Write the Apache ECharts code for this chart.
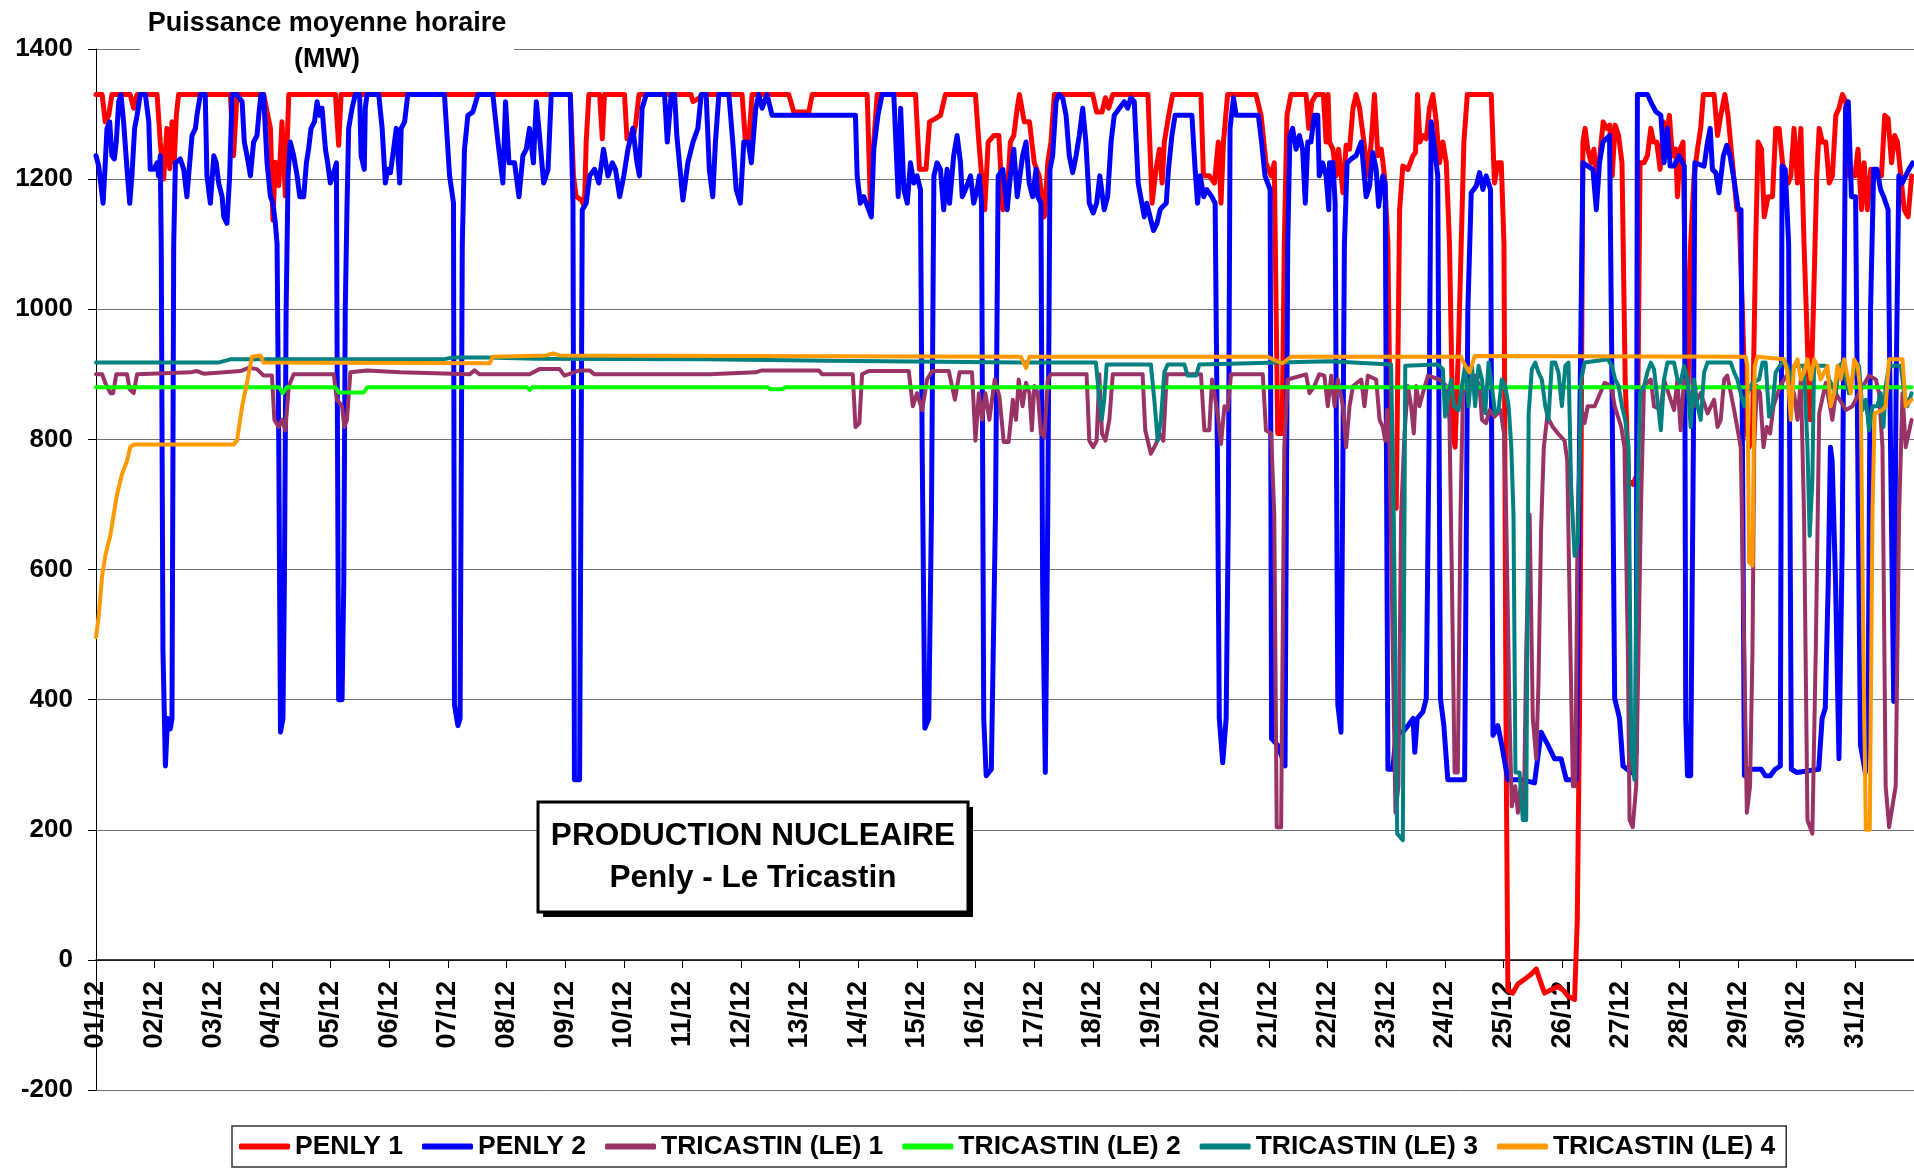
<!DOCTYPE html>
<html>
<head>
<meta charset="utf-8">
<title>Production nucleaire Penly - Le Tricastin</title>
<script src="https://cdn.jsdelivr.net/npm/echarts@6/dist/echarts.min.js"></script>
<style>
html, body { margin: 0; padding: 0; background: #fff; }
#chart { width: 1914px; height: 1171px; }
</style>
</head>
<body>
<div id="chart"></div>
<script>
// x = hours since 01/12 00:00, y = MW
var dayLabels = ['01/12','02/12','03/12','04/12','05/12','06/12','07/12','08/12','09/12','10/12',
  '11/12','12/12','13/12','14/12','15/12','16/12','17/12','18/12','19/12','20/12','21/12',
  '22/12','23/12','24/12','25/12','26/12','27/12','28/12','29/12','30/12','31/12'];
var seriesNames = ['PENLY 1', 'PENLY 2', 'TRICASTIN (LE) 1', 'TRICASTIN (LE) 2', 'TRICASTIN (LE) 3', 'TRICASTIN (LE) 4'];

var penly1 = [[0,1330],[2.5,1330],[3.8,1288],[5.2,1298],[6.5,1330],[14,1330],[15.4,1309],[16.8,1330],[25,1330],[26.3,1257],[27.7,1200],[29,1278],[30.2,1216],[31.1,1288],[32,1226],[32.9,1299],[33.8,1330],[55,1330],[56.3,1236],[57.7,1330],[68.6,1330],[71.4,1278],[72.4,1137],[73.4,1226],[74.8,1190],[76.1,1288],[77.5,1174],[78.9,1330],[98,1330],[99.3,1252],[100.3,1330],
  [194.1,1330],[195.4,1205],[196.5,1173],[198.6,1168],[199.9,1158],[200.6,1257],[201.7,1330],[206.1,1330],[207.2,1262],[208.1,1330],[216.3,1330],[217.3,1262],[219.7,1262],[220.8,1283],[222.2,1330],[243.5,1330],[244.3,1319],[247,1325],[248,1330],
  [264.4,1330],[265.8,1257],[267.1,1257],[268.5,1330],[283.5,1330],[285.6,1303],[291.7,1303],[293.1,1330],[315.6,1330],[316.9,1163],[318.3,1257],[319.7,1330],[335.4,1330],[337,1215],[339.7,1215],[341.1,1288],[343.5,1293],[345.6,1298],[347.6,1330],[359.9,1330],[361.3,1257],[362.9,1184],[363.7,1153],[365.1,1257],[367.4,1267],[369.5,1267],[371.1,1153],[372.9,1173],[374.2,1257],[375.6,1267],[377,1309],
  [377.9,1330],[379.9,1288],[382,1288],[384,1225],[386,1205],[388.1,1142],[389.5,1225],[390.8,1257],[392.2,1330],[407.9,1330],[409.5,1303],[411.7,1303],[413.1,1325],[414.4,1309],[416.1,1330],[430.5,1330],[432.2,1163],[433.8,1215],[435.2,1246],[436.3,1194],[437.2,1257],[439,1298],[440.6,1330],[452.2,1330],[453.2,1205],[455.6,1205],[457.7,1194],[459.3,1257],[460.4,1163],[461.4,1257],[463.1,1330],[474.7,1330],[476.8,1298],[478.8,1225],[480.9,1205],[482.2,1225],[483.6,809],[485.4,809],[486.3,1100],[487.4,1298],[489,1330],[495.2,1330],[496.3,1278],[497.6,1319],[499.3,1330],[502.3,1330],[503.4,1257],
  [504.2,1330],[504.8,1257],[506.2,1246],[507.5,1205],[508.5,1246],[510.3,1179],[511.6,1252],[513,1246],[514.4,1309],[515.7,1330],[517.1,1309],[518.9,1257],[520.5,1205],[521.9,1257],[523.2,1330],[524.6,1236],[526,1246],[527.3,1205],[528.7,1100],[530,705],[532.1,694],[533.5,1153],[534.8,1220],[536.9,1215],[539,1236],[540,1241],[540.8,1330],[541.8,1257],[543,1267],[544.4,1262],[545.7,1309],[547.1,1330],[548.5,1288],[549.8,1225],[551.2,1257],[552.6,1225],[553.9,1100],[555.3,809],[556.2,788],[557.6,944],[558.7,1100],[559.8,1257],[561.2,1330],[571,1330],[572.3,1194],[573.7,1225],[575.1,1225],[576.2,1100],[577.1,319],[577.8,-46],[579.8,-51],[581.9,-37],[584.6,-30],[587.3,-22],[589.4,-14],[590.8,-30],[592.8,-51],[595.5,-46],[598.3,-41],[600.3,-46],[602.4,-56],[605.1,-61],[606.2,62],[607.1,371],[607.8,788],[608.5,1257],[609.4,1278],[610.5,1246],[611.9,1225],[613,1246],[613.9,1205],[615.3,1231],[616.8,1288],[618.2,1278],[619.5,1283],[620.5,1205],[621.7,1283],[623.1,1267],[624.5,1225],[625.8,892],[627.2,736],[629,731],[630.7,746],
  [631.9,1225],[633.5,1225],[634.9,1236],[636.3,1278],[637.4,1257],[638.7,1257],[640.1,1215],[641.5,1288],[642.8,1267],[643.9,1298],[645.1,1236],[646.5,1246],[647.2,1173],[648.3,1246],[649.5,1257],[650.6,996],[651.5,871],[652.6,1100],[654,1205],[655.4,1246],[656.7,1278],[657.8,1330],[662.2,1330],[663.6,1267],[664.9,1298],[666.6,1330],[667.9,1298],[669.7,1225],[671.5,1153],[672.4,1153],[673.8,996],[675.1,830],[676.5,788],[677.9,809],[679.2,1100],[680.2,1257],[681.6,1246],[682.7,1142],[684.3,1173],[686.1,1173],[687.4,1278],[688.8,1278],[690.2,1225],[691.5,1205],[692.5,1194],[693.6,1205],[694.9,1278],[696.3,1194],[697.7,1278],[699,1100],[700.4,944],[701.5,830],[702.8,996],[704.2,1205],[705.2,1278],[706.5,1257],[707.9,1257],[709.3,1194],[710.6,1205],[712,1298],[713.3,1309],[714.7,1330],[716.1,1319],[717,1205],[719.8,1205],[721.1,1246],[722.5,1153],[723.6,1225],[724.9,1153],[726.3,1215],[727.9,1205],[730.7,1205],[732,1298],[733.4,1293],[734.8,1225],[736.1,1267],[737.2,1257],[738.6,1205],[740,1153],[741.6,1142],[743,1205]];

var penly2 = [[0,1236],[1.1,1220],[2.9,1163],[3.8,1225],[4.5,1278],[5.6,1288],[6.5,1236],[7.5,1231],[8.3,1257],[9.3,1319],[10.2,1330],[11.3,1288],[12.7,1215],[13.8,1163],[14.7,1205],[15.8,1278],[16.8,1298],[18.1,1330],[20.2,1330],[21.6,1288],[22.2,1215],[23.6,1215],[25,1225],[25.6,1205],[26.3,1236],[26.7,1100],[27.4,475],[28.4,298],[29.3,371],[30.4,355],[31.1,371],[31.8,1100],[32.5,1225],[34.5,1231],[35.9,1215],[37.2,1173],[37.9,1205],[39.3,1267],[40.7,1278],[41.3,1298],[42.7,1330],[44.7,1330],[45.4,1205],[46.8,1163],[48.2,1236],[49.2,1225],[50.2,1194],[51.6,1173],[52.3,1142],[53.6,1132],[54.7,1205],[55.7,1330],[57.7,1330],[59.8,1319],[60.7,1257],[61.8,1236],[63.2,1205],[64.5,1257],[65.9,1267],[66.6,1298],[67.5,1330],[68.6,1330],[70,1225],[71.4,1173],[72.4,1163],[73.4,1132],[74.1,1100],[74.8,788],[75.5,350],[76.5,371],[77.1,580],[77.8,996],[78.6,1205],[79.5,1257],[80.9,1236],[82.3,1205],[83.4,1173],[85,1173],[86.1,1225],[87,1246],[88,1278],[89.4,1288],[90.5,1319],[91.5,1298],[92.5,1309],[93.9,1246],[94.8,1225],[95.9,1194],[96.9,1205],[98.4,1225],[98.6,996],[99.3,400],[100.7,400],[101.4,580],[102,996],[102.7,1153],[103.4,1278],[104.8,1309],[106.1,1330],[107.9,1330],[108.5,1236],[109.8,1215],[110.2,1309],[110.9,1330],[115.7,1330],[117.1,1278],[118.4,1194],[119.4,1215],[120.5,1210],[121.8,1246],[122.9,1278],[124.3,1194],
  [124.9,1278],[126.3,1288],[127.6,1330],[142.6,1330],[144.7,1205],[146.3,1163],[146.7,392],[148.1,360],[149,371],[149.9,1100],[150.8,1246],[152.2,1298],[154.2,1303],[156.3,1330],[162.4,1330],[164.5,1257],[166.5,1194],[167.6,1319],[169,1225],[171.3,1225],[173.1,1173],[174.7,1236],[176.1,1246],[177.4,1278],[179,1225],[180.2,1319],[181.5,1267],[183.2,1194],[185,1215],[186.3,1330],[194.1,1330],[195.2,1163],[195.8,277],[197.9,277],[199,1153],[200.6,1163],[202,1205],[204,1215],[205.8,1194],[207.7,1246],[209.5,1205],[211.3,1225],[212.6,1215],[214.3,1173],[216,1205],[217.7,1246],[219.7,1278],[221.4,1225],[222.4,1205],[223.5,1309],[225.2,1330],[232.7,1330],[233.8,1257],[235.4,1330],[236.8,1330],[237.7,1267],[240.2,1168],[242.2,1225],[244.3,1257],[246.3,1278],[247.7,1330],[249.7,1330],[251,1215],
  [252.4,1173],[253.5,1257],[254.9,1330],[259,1330],[260.6,1257],[262,1184],[263.7,1163],[265.1,1257],[266.9,1257],[268.2,1225],[270,1309],[271.2,1330],[272.6,1309],[274.6,1330],[276.7,1298],[310.8,1298],[311.5,1205],[312.8,1163],[314.2,1173],[316.2,1153],[317.3,1142],[318.3,1246],[320,1298],[321.7,1330],[326.5,1330],[328.3,1173],[329.3,1309],[330.6,1184],[332,1163],[333.3,1225],[334.7,1194],[336,1205],[337.4,1184],[338.1,788],[339.2,356],[340.8,371],[341.9,684],[342.9,1205],[344.2,1225],[345.6,1215],[346.9,1153],[348.3,1215],[349.3,1163],[351,1236],[352.4,1267],[353.8,1225],[354.5,1173],[355.8,1184],[357.9,1205],[359.2,1163],[360.6,1184],[361.5,1205],[362.4,1163],[363.3,371],[364.3,283],[366.4,293],[368.1,684],[369.2,1205],[371.1,1215],[372.9,1153],[374.2,1205],[375.6,1246],[377,1173],
  [379.2,1236],[380.6,1257],[381.9,1194],[383.3,1173],[384.7,1215],[385.4,1173],[386.7,1163],[387.4,580],[388.5,288],[389.5,684],[390.4,1215],[391.5,1236],[392.9,1319],[394,1330],[395.6,1325],[397,1298],[398.3,1236],[399.7,1210],[401.1,1236],[402.4,1267],[403.8,1309],[405.1,1257],[406.5,1163],[408.1,1148],[409.5,1163],[410.8,1205],[412.6,1153],[414,1173],[415.4,1257],[416.7,1298],[418.8,1309],[420.8,1319],[422.2,1309],[423.5,1325],[424.9,1319],[426.5,1194],[428,1163],[429,1142],[430,1163],[431.7,1137],[432.8,1121],[434.2,1132],[435.5,1153],[436.6,1158],[438,1163],[438.9,1215],[440.3,1267],[441.6,1298],[448.5,1298],[449.8,1215],[450.8,1163],[451.9,1205],[453.3,1173],[454.6,1184],[456.6,1173],[458,1163],[458.9,788],[459.7,371],[461.1,303],[462.5,371],[463.4,684],[464.1,1278],[465.5,1325],[466.6,1298],[475.7,1298],[477,1257],[478.4,1205],[480.5,1184],[481.1,340],[483.6,330],[486.6,298],[487.7,1100],[488.6,1267],[489.7,1278],[491.1,1246],[492.5,1267],[493.8,1246],[494.9,1163],[495.9,1257],[497.2,1257],[498.6,1298],[500,1298],[500.6,1205],[502,1225],[503.4,1205],[504.5,1153],
  [504.8,1225],[506.2,1225],[507.1,1163],[508.2,392],[509.5,350],[510.9,1100],[512,1225],[513.7,1231],[515.7,1236],[517.8,1257],[519.8,1173],[521.2,1189],[522.5,1241],[523.9,1215],[524.9,1158],[526.6,1205],[527.6,1194],[528.7,293],[530.7,293],[532.1,350],[534.8,350],[536.9,360],[539,371],[539.7,319],[540.7,371],[543,381],[544.4,402],[545.5,788],[546.4,1288],[547.8,1246],[549.1,1205],[550.2,402],[551.6,360],[553.2,277],[560.1,277],[561.4,996],[562.8,1179],[564.8,1189],[566.2,1210],[567.6,1184],[568.9,1205],[570.7,1184],[571.7,345],[573.7,360],[575.3,330],[577.8,277],[583.3,277],[588.7,272],[591.4,350],[594.2,330],[596.9,309],[599.6,309],[601.7,277],[605.8,277],[607.1,788],[608.5,1225],[610.5,1220],[612.6,1215],[614,1153],[615.3,1225],[616.7,1257],[619.4,1267],[620.4,892],[621.5,402],[623.5,371],[624.9,298],[628.3,288],[630.3,319],
  [630.8,1330],[634.9,1330],[636.9,1314],[638.3,1304],[640.4,1298],[641.7,1225],[643.1,1278],[644.2,1220],[645.8,1220],[647.9,1236],[650,1220],[650.6,371],[651.3,283],[652.6,283],[653.7,788],[654.3,1225],[658.1,1220],[659.5,1257],[660.6,1278],[661.5,1215],[662.9,1210],[664.2,1179],[666,1236],[667.4,1252],[668.7,1236],[670.1,1205],[672.1,1153],[673.2,1153],[673.8,788],[674.6,283],[676.2,293],[681.5,293],[683.1,283],[685.2,283],[687.2,293],[689.3,298],[690,1220],[691.3,1215],[692.7,1100],[693.8,293],[696.1,288],[705,293],[706.4,371],[707.7,387],[708.9,580],[709.8,788],[710.5,767],[711.9,580],[713.3,309],[714.6,632],[716,1309],[717.1,1319],[718.4,1173],[720.1,1173],[721.2,684],[722.1,330],[724.1,288],[725.2,371],[726.2,996],[727.5,1215],[728.9,1215],[730.3,1184],[731.6,1173],[733.4,1153],[734.4,788],[735.7,397],[736.7,892],[737.8,1205],[739.2,1194],[740.6,1205],[741.9,1215],[743.5,1225]];

var tricastin1 = [[0,900],[2.5,900],[3.8,887],[5.9,871],[7,871],[8.3,900],[12.7,900],[13.8,877],[15.4,871],[16.8,900],[38.6,903],[41.3,905],[44.1,901],[52.3,903],[59.1,905],[62.5,910],[65.9,908],[68.6,898],[72,898],[73,830],[74.8,819],[76.1,830],[77.5,814],[78.9,882],[80.9,900],[97.3,900],[98.6,861],[100.7,851],[101.6,819],[102.7,830],[104.1,903],[110.9,906],[124.6,903],[152.9,900],[154.9,906],[157,900],[177.4,900],[181.5,908],[189.7,908],[191.7,898],[197.9,906],[202,906],[204,900],[251,900],[269.9,903],[272.6,906],[295.8,906],[297.2,900],[309.7,900],[310.8,819],[312.4,825],[313.5,900],[316.2,905],[332.6,905],[334.3,851],[336,871],[338.1,845],[340.1,892],[342.2,905],[349,905],[351.5,861],[353.4,903],[358.5,903],[359.9,798],[361.3,871],[362.6,830],[364,871],[365.6,830],[367.8,892],[369.7,866],[371.5,796],[373.5,796],[375.2,861],[376.5,830],[377.6,892],[379.2,851],[380.6,887],[382,871],[383,814],[384,882],[385.4,871],[386.7,809],[388.1,804],[389.5,892],[390.8,900],[405.4,900],[406.5,798],[408.1,788],[409.5,798],[410.6,900],[411.7,809],[413.1,798],[414.7,830],[416.1,900],[428.3,900],[429.4,814],[431.7,778],[433.8,793],[435.2,809],[436.8,798],[438.2,900],[452.2,900],[453.6,814],[455.6,814],[456.7,892],[459,840],[460.4,793],[461.8,851],[463.1,845],[464.5,900],[477.5,900],[478.8,814],[480.9,809],[482.2,684],[483.2,204],[485,204],[486.3,788],[487.7,892],[495.2,900],[496.6,871],[498.6,882],[500.6,900],[502.7,898],[504.1,851],[505.5,898],[506.9,851],[508.2,892],[510.3,851],[511.6,788],[513,851],[514.4,882],[517.8,892],[519.1,851],[520.5,898],[523.9,892],[525.3,830],[526.6,819],[527.6,798],[528.4,845],[529.4,788],[530.7,476],[531.8,226],[533,267],[534.1,684],[535.5,809],[536.9,882],[538.2,851],[539.3,809],[540.3,882],[541.6,851],[543,871],[545.1,898],[549.8,892],[552.6,882],[553.9,830],[554.9,580],[556,288],[557.3,288],[558.4,684],[559.4,871],[562.1,892],[564.2,898],[566.2,882],[567.2,830],[568.9,825],[570.3,845],[572.3,835],[574.8,845],[576.2,809],[577.1,684],[578.5,371],[579.4,236],[580.8,267],[581.9,226],[583,267],[584.3,215],[585.3,476],[586.7,684],[588,371],[589.4,309],[590.3,423],[591.4,663],[592.5,788],[593.9,835],[596.2,819],[598.3,809],[601,798],[602.1,767],[603.4,476],[604.4,267],[605.4,267],[606.4,684],[607.8,851],[609.2,825],[610.5,851],[613.3,851],[617.4,887],[620.1,882],[621.5,851],[624.2,819],[625.5,788],[626.9,476],[627.6,215],[628.9,204],[630.3,267],[632.2,684],[633.5,882],[636.3,892],[637.6,851],[640.4,845],[641.7,892],[645.8,845],[647.2,892],[648.5,814],[649.9,892],[654,851],[656.7,871],[659.5,840],[662.2,861],[663.6,819],[664.9,830],[666.3,892],[667.6,898],[670.4,845],[673.1,788],[674.5,476],[675.6,226],[676.9,267],[677.9,476],[678.6,788],[679.7,882],[681,871],[682.4,788],[683.7,819],[685.1,809],[686.5,851],[689.2,882],[691.9,898],[694.9,871],[696.3,830],[697.7,892],[699,684],[700.4,215],[702.4,194],[703.8,476],[705.2,840],[707.9,887],[710.6,830],[712,871],[716.1,845],[718.8,851],[721.5,871],[725.6,898],[728.4,892],[729.7,871],[731.1,788],[732.4,267],[733.8,204],[736.5,267],[737.9,684],[739.3,871],[740.6,788],[743,830]];

var tricastin2 = [[0,880],[75,880],[76.5,871],[78,880],[98,880],[99.5,872],[109.5,872],[111,880],[176.5,880],[177.5,876],[178.5,880],[275,880],[276,877],[281,877],[282,880],[743,880]];

var tricastin3 = [[0,918],[50,918],[55,923],[142,923],[146,926],[160,926],[180,924],[250,923],[300,921],[377.9,918],[409.2,918],[410.6,861],[411.6,830],[412.6,861],[413.6,915],[431.7,915],[433.1,861],[434.5,798],[435.8,830],[437.2,903],[438.6,915],[445.4,915],[446.8,898],[450.2,898],[451.5,915],[504.7,920],[530,915],[531.1,684],[532.5,194],[534.8,184],[535.8,913],[549.1,915],[551.2,908],[552.1,835],[553.5,871],[554.6,892],[555.7,851],[557.6,845],[559,882],[560.3,913],[561.7,851],[563.1,913],[564.4,851],[565.8,913],[567.2,892],[568.5,840],[569.9,918],[571.2,882],[572.6,840],[574,845],[575.3,892],[576.7,882],[578.1,851],[579.2,788],[580.1,684],[580.9,288],[582.6,288],[583.9,215],[585.3,215],[586.3,840],[587.6,908],[589,918],[590.3,903],[591.7,892],[593.1,851],[594.4,830],[595.8,918],[597.2,918],[598.5,903],[599.9,851],[601.3,913],[602.6,918],[603.7,726],[605.1,621],[606.4,642],[607.8,892],[609.2,918],[618.7,923],[620.4,913],[621.7,892],[623.1,882],[624.5,851],[625.8,830],[627.2,788],[628.3,319],[629.6,277],[630.7,684],[631.9,871],[633.5,882],[634.9,903],[636.3,918],[637.6,908],[639,861],[640.4,814],[641.7,892],[643.1,918],[645.8,918],[647.2,892],[648.5,887],[649.9,913],[651.3,892],[652.6,819],[654,892],[655.4,851],[656.7,830],[658.1,903],[659.5,918],[669,918],[670.4,903],[671.7,892],[673.1,871],[674.5,851],[675.8,871],[677.9,887],[680.6,892],[682,918],[683.3,918],[684.7,835],[686.1,851],[687.4,903],[690.8,923],[692.2,913],[693.6,892],[694.9,913],[699,913],[700.4,788],[701.3,652],[702.4,736],[703.1,913],[707.9,913],[709.3,892],[712,871],[713.3,913],[714.7,918],[716.1,892],[717.4,871],[718.8,892],[720.2,918],[721.5,913],[722.9,845],[724.3,861],[725.6,814],[727,851],[729,851],[730.4,871],[731.5,819],[732.4,882],[733.8,913],[738.6,913],[740,871],[741.3,851],[743,871]];

var tricastin4 = [[0,496],[1.1,528],[2.5,590],[3.8,621],[5.9,653],[7.2,684],[8.6,715],[10.6,746],[12.7,767],[14,788],[15.4,792],[56.3,792],[57.7,798],[59.8,851],[61.8,887],[63.8,927],[67.3,929],[68.6,918],[161.1,917],[162.4,927],[184.2,929],[187,932],[189.7,929],[378.5,927],[380.6,910],[382,927],[479.5,927],[481.5,923],[485.6,917],[489,927],[558.7,927],[560.1,915],[562.1,903],[564.2,928],[675.1,927],[675.8,913],[676.5,611],[677.9,606],[678.8,913],[679.9,927],[690.8,923],[692.2,903],[693.6,830],[694.9,913],[696.3,923],[697.7,892],[699,903],[700.4,923],[701.8,892],[703.1,923],[704.5,913],[705.8,892],[707.2,903],[708.6,913],[709.9,851],[711.3,871],[712.7,913],[714,892],[715.4,923],[718.1,871],[719.5,923],[720.9,913],[722.2,871],[723.3,476],[724.3,200],[725.9,200],[727,684],[727.9,840],[731.1,845],[732.4,851],[733.8,923],[739.3,923],[740.6,851],[743,861]];

var seriesData = [penly1, penly2, tricastin1, tricastin2, tricastin3, tricastin4];
var seriesColors = ['#ff0000', '#0000ff', '#993366', '#00ff00', '#008080', '#ff9900'];
var lineWidths = [5, 5, 4, 4, 4, 4];

var FONT = '"Liberation Sans", Arial, sans-serif';

var chart = echarts.init(document.getElementById('chart'));

var series = seriesNames.map(function (name, i) {
  return {
    name: name,
    type: 'line',
    data: seriesData[i],
    showSymbol: false,
    symbol: 'none',
    color: seriesColors[i],
    lineStyle: { width: lineWidths[i], color: seriesColors[i], join: 'round', cap: 'round' },
    animation: false,
    z: 2 + i
  };
});

var option = {
  backgroundColor: '#fff',
  animation: false,
  grid: { left: 96, top: 49, width: 1820, height: 1041, containLabel: false },
  xAxis: {
    type: 'value',
    min: 0,
    max: 744,
    interval: 24,
    position: 'bottom',
    offset: -130,
    axisLine: { onZero: false, lineStyle: { color: '#000', width: 1.5 } },
    axisTick: { show: true, length: 8, lineStyle: { color: '#000', width: 1 } },
    splitLine: { show: false },
    axisLabel: {
      rotate: 90,
      margin: 21,
      color: '#000',
      fontFamily: FONT,
      fontWeight: 'bold',
      fontSize: 27,
      showMaxLabel: false,
      formatter: function (v) {
        var k = Math.round(v / 24);
        return k < dayLabels.length ? dayLabels[k] : '';
      }
    }
  },
  yAxis: {
    type: 'value',
    min: -200,
    max: 1400,
    interval: 200,
    axisLine: { show: true, lineStyle: { color: '#000', width: 1 } },
    axisTick: { show: true, length: 8, lineStyle: { color: '#000' } },
    splitLine: { show: true, lineStyle: { color: '#707070', width: 1 } },
    axisLabel: {
      margin: 23,
      color: '#000',
      fontFamily: FONT,
      fontWeight: 'bold',
      fontSize: 26,
      formatter: function (v) { return String(v); }
    }
  },
  legend: {
    data: seriesNames,
    left: 232,
    top: 1126,
    orient: 'horizontal',
    icon: 'roundRect',
    itemWidth: 51,
    itemHeight: 6,
    itemGap: 19,
    padding: [7, 11, 7, 7],
    borderColor: '#333',
    borderWidth: 1.5,
    backgroundColor: '#fff',
    textStyle: { color: '#000', fontFamily: FONT, fontWeight: 'bold', fontSize: 26.5 }
  },
  graphic: [
    { type: 'rect', z: 50, shape: { x: 140, y: 42, width: 374, height: 14 }, style: { fill: '#fff' } },
    { type: 'text', z: 51, x: 327, y: 24, style: { text: 'Puissance moyenne horaire', fill: '#000', font: 'bold 27px ' + FONT, align: 'center', verticalAlign: 'middle' } },
    { type: 'text', z: 51, x: 327, y: 60, style: { text: '(MW)', fill: '#000', font: 'bold 27px ' + FONT, align: 'center', verticalAlign: 'middle' } },
    { type: 'rect', z: 60, shape: { x: 543, y: 807, width: 430, height: 110 }, style: { fill: '#000' } },
    { type: 'rect', z: 61, shape: { x: 538, y: 802, width: 430, height: 110 }, style: { fill: '#fff', stroke: '#000', lineWidth: 3 } },
    { type: 'text', z: 62, x: 753, y: 836, style: { text: 'PRODUCTION NUCLEAIRE', fill: '#000', font: 'bold 31.5px ' + FONT, align: 'center', verticalAlign: 'middle' } },
    { type: 'text', z: 62, x: 753, y: 878, style: { text: 'Penly - Le Tricastin', fill: '#000', font: 'bold 31.5px ' + FONT, align: 'center', verticalAlign: 'middle' } }
  ],
  series: series
};

chart.setOption(option);
</script>
</body>
</html>
